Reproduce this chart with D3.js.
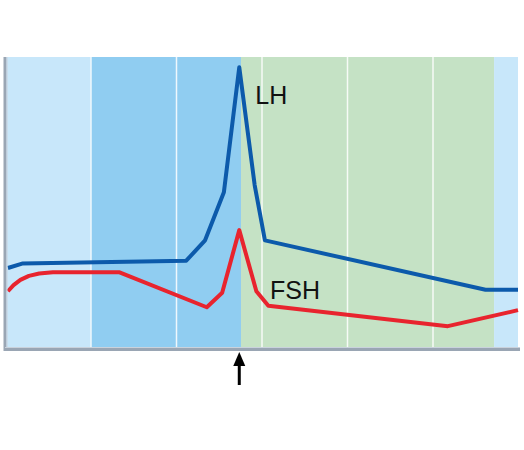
<!DOCTYPE html>
<html><head><meta charset="utf-8">
<script src="https://cdn.jsdelivr.net/npm/d3@7"></script>
<style>body{margin:0;background:#fff}svg{display:block}</style>
</head><body>
<svg id="c" width="524" height="450"></svg>
<script>
// Phases (day ranges)
const phases = [
  {name:"early", start:0, end:5, color:"#c8e7fa"},
  {name:"follicular", start:5, end:13.8, color:"#90cdf1"},
  {name:"luteal", start:13.8, end:28.6, color:"#c5e2c5"},
  {name:"next", start:28.6, end:30, color:"#c8e7fa"}
];
const gridDays = [5, 10, 15, 20, 25];
const ovulationDay = 13.7;

// Hormone levels (day, level 0-100)
const lhDays   = [0.17, 1.0, 10.6, 11.7, 12.8, 13.7, 14.6, 15.2, 28.1, 30];
const lhValues = [27.5, 29, 30, 37, 53.5, 96.5, 56, 37, 20, 20];
const fshDays   = [0.17, 0.5, 0.9, 1.4, 2.0, 2.8, 6.7, 11.8, 12.7, 13.7, 14.7, 15.4, 25.9, 30];
const fshValues = [19.5, 21.6, 23.4, 24.8, 25.6, 26, 26, 14, 19, 40.5, 19.5, 14.5, 7.5, 13];

const svg = d3.select("#c");
const x = d3.scaleLinear().domain([0,30]).range([5,518]);
const y = d3.scaleLinear().domain([0,100]).range([348,57]);

svg.selectAll("rect.phase").data(phases).enter().append("rect")
  .attr("x", d=>x(d.start)).attr("y", y(100))
  .attr("width", d=>x(d.end)-x(d.start)).attr("height", y(0)-y(100))
  .attr("fill", d=>d.color);

svg.append("g").attr("transform",`translate(0,${y(0)})`)
  .call(d3.axisBottom(x).tickValues(gridDays).tickSize(-(y(0)-y(100))).tickFormat(""))
  .call(g=>g.select(".domain").remove())
  .call(g=>g.selectAll("line").attr("stroke","#ffffff").attr("stroke-width",1.5).attr("opacity",0.85));

const lhData = lhDays.map((d,i)=>[d,lhValues[i]]);
const fshData = fshDays.map((d,i)=>[d,fshValues[i]]);
const line = d3.line().x(d=>x(d[0])).y(d=>y(d[1]));

svg.append("path").datum(fshData).attr("d",line).attr("fill","none")
  .attr("stroke","#e8242e").attr("stroke-width",4).attr("stroke-linejoin","round");
svg.append("path").datum(lhData).attr("d",line).attr("fill","none")
  .attr("stroke","#0c5aab").attr("stroke-width",4).attr("stroke-linejoin","round");

// axes frame
svg.append("line").attr("x1",x(0)).attr("x2",x(0)).attr("y1",y(100)).attr("y2",y(0)+3)
  .attr("stroke","#9aa6b4").attr("stroke-width",3);
svg.append("line").attr("x1",x(0)-1).attr("x2",x(30)+2).attr("y1",y(0)+1.5).attr("y2",y(0)+1.5)
  .attr("stroke","#9aa6b4").attr("stroke-width",3);
svg.append("line").attr("x1",x(0)+2).attr("x2",x(0)+2).attr("y1",y(100)).attr("y2",y(0))
  .attr("stroke","#c9d2dc").attr("stroke-width",1);
svg.append("line").attr("x1",x(0)).attr("x2",x(30)+2).attr("y1",y(0)-0.5).attr("y2",y(0)-0.5)
  .attr("stroke","#c9d2dc").attr("stroke-width",1);

svg.append("text").attr("x",x(14.7)-1).attr("y",104).text("LH")
  .attr("font-family","Liberation Sans, Arial, sans-serif").attr("font-size",25).attr("fill","#111");
svg.append("text").attr("x",x(15.5)).attr("y",299).text("FSH")
  .attr("font-family","Liberation Sans, Arial, sans-serif").attr("font-size",25).attr("fill","#111");

// ovulation arrow
const ax = x(ovulationDay);
svg.append("line").attr("x1",ax).attr("x2",ax).attr("y1",362).attr("y2",385)
  .attr("stroke","#000").attr("stroke-width",3);
svg.append("path").attr("d",`M${ax},352 L${ax-6},366 L${ax+6},366 Z`).attr("fill","#000");
</script>
</body></html>
